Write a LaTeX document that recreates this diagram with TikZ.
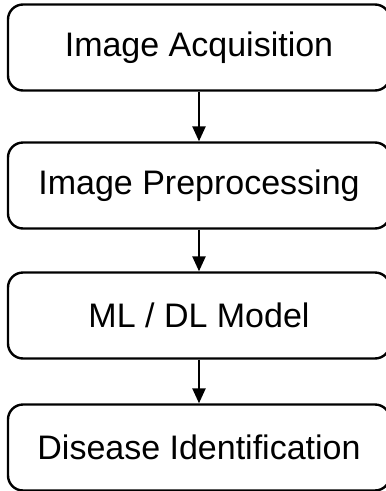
\documentclass[tikz,border=0pt]{standalone}
\usepackage{fontspec}
\setmainfont{Liberation Sans}
\usetikzlibrary{arrows.meta}
\begin{document}
\begin{tikzpicture}[x=1pt,y=-1pt,
  stepbox/.style={draw=black, line width=2.4pt, rounded corners=15pt, minimum width=382pt, minimum height=86pt, inner sep=0pt, font=\fontsize{34}{40}\selectfont, anchor=center},
  flow/.style={line width=2.4pt, -{Triangle[length=15pt,width=13pt]}}]
\useasboundingbox (0,0) rectangle (386,491);
\begin{scope}
\clip (0,0) rectangle (386,491);
\node[stepbox] (a) at (199,47.5) {Image Acquisition};
\node[stepbox] (b) at (199,185.5) {Image Preprocessing};
\node[stepbox] (c) at (199,315.5) {ML / DL Model};
\node[stepbox] (d) at (199,447.5) {Disease Identification};
\draw[flow] (a) -- (b);
\draw[flow] (b) -- (c);
\draw[flow] (c) -- (d);
\end{scope}
\end{tikzpicture}
\end{document}
